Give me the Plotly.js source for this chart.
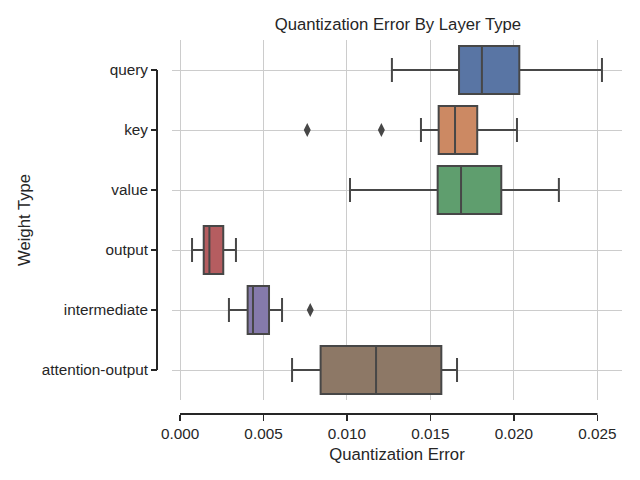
<!DOCTYPE html>
<html>
<head>
<meta charset="utf-8">
<script src="https://cdn.plot.ly/plotly-3.0.1.min.js"></script>
<style>html,body{margin:0;padding:0;background:#fff}#chart{width:640px;height:480px}</style>
</head>
<body>
<div id="chart"></div>
<script>
// Categories (top to bottom)
const categories = ["query", "key", "value", "output", "intermediate", "attention-output"];
// Box statistics
const lowerWhisker = [0.01269, 0.01443, 0.01018, 0.00072, 0.00293, 0.00671];
const q1Values     = [0.01671, 0.01549, 0.01543, 0.00142, 0.00405, 0.00842];
const medians      = [0.01808, 0.01647, 0.01683, 0.00176, 0.00437, 0.01174];
const q3Values     = [0.02032, 0.01780, 0.01924, 0.00259, 0.00533, 0.01565];
const upperWhisker = [0.02527, 0.02018, 0.02269, 0.00335, 0.00611, 0.01659];
// Outliers
const outlierCats   = ["key", "key", "intermediate"];
const outlierValues = [0.00762, 0.01206, 0.00780];
// Axis ticks
const xTicks = [0.000, 0.005, 0.010, 0.015, 0.020, 0.025];
const boxColors = ["#5975a4", "#cc8963", "#5f9e6e", "#b55d60", "#857aab", "#8d7866"];

const lineGray = "#474747";
const textColor = "#262626";

const traces = categories.map((c, i) => ({
  type: "box",
  orientation: "h",
  y: [c],
  q1: [q1Values[i]],
  median: [medians[i]],
  q3: [q3Values[i]],
  lowerfence: [lowerWhisker[i]],
  upperfence: [upperWhisker[i]],
  name: c,
  width: 0.8,
  whiskerwidth: 0.5,
  fillcolor: boxColors[i],
  line: {color: lineGray, width: 2},
  showlegend: false,
  hoverinfo: "skip"
}));

traces.push({
  type: "scatter",
  mode: "markers",
  x: outlierValues,
  y: outlierCats,
  marker: {symbol: "diamond-tall", size: 10, color: lineGray},
  showlegend: false,
  hoverinfo: "skip"
});

const layout = {
  width: 640,
  height: 480,
  margin: {l: 157, r: 18, t: 40, b: 66},
  paper_bgcolor: "#ffffff",
  plot_bgcolor: "#ffffff",
  font: {family: "Liberation Sans, Arial, sans-serif", size: 15.3, color: textColor},
  title: {
    text: "Quantization Error By Layer Type",
    font: {size: 16.7, color: textColor},
    xref: "paper", x: 0.518, xanchor: "center",
    yref: "container", y: 0.95, yanchor: "middle"
  },
  xaxis: {
    domain: [0.0323, 1],
    range: [-0.000479, 0.02647],
    anchor: "free",
    position: 0,
    tickvals: xTicks,
    tickformat: ".3f",
    ticks: "outside",
    ticklen: 6,
    tickwidth: 1.5,
    tickcolor: textColor,
    tickfont: {size: 15.3},
    showline: false,
    zeroline: false,
    showgrid: true,
    gridcolor: "#cccccc",
    gridwidth: 1,
    title: {text: "Quantization Error", font: {size: 16.7, color: textColor}, standoff: 6}
  },
  yaxis: {
    domain: [0.0374, 1],
    type: "category",
    categoryarray: categories,
    range: [5.5, -0.5],
    anchor: "free",
    position: 0,
    ticks: "outside",
    ticklen: 6,
    tickwidth: 1.5,
    tickcolor: textColor,
    tickfont: {size: 15.3},
    showline: false,
    zeroline: false,
    showgrid: true,
    gridcolor: "#cccccc",
    gridwidth: 1,
    title: {text: "Weight Type", font: {size: 16.7, color: textColor}, standoff: 5}
  },
  shapes: [
    {type: "line", xref: "paper", yref: "y", x0: 0, x1: 0,
     y0: categories[0], y1: categories[categories.length - 1],
     line: {color: textColor, width: 2}},
    {type: "line", xref: "x", yref: "paper", x0: xTicks[0], x1: xTicks[xTicks.length - 1],
     y0: 0, y1: 0, line: {color: textColor, width: 2}}
  ]
};

Plotly.newPlot("chart", traces, layout, {displayModeBar: false, staticPlot: true});
</script>
</body>
</html>
